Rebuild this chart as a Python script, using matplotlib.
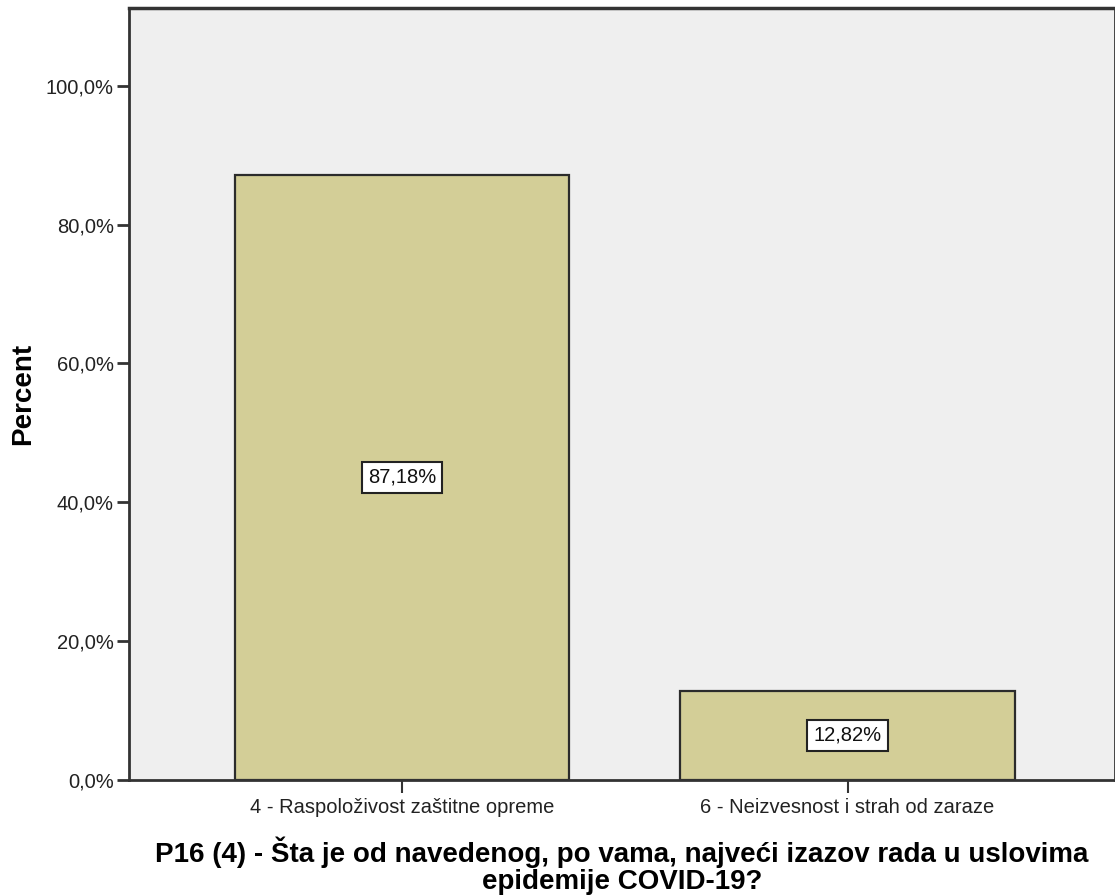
import matplotlib
matplotlib.use("Agg")
import matplotlib.pyplot as plt

# podaci
categories = ["4 - Raspoloživost zaštitne opreme", "6 - Neizvesnost i strah od zaraze"]
percent = [87.18, 12.82]
value_labels = ["87,18%", "12,82%"]
yticks = [0, 20, 40, 60, 80, 100]
ytick_labels = ["0,0%", "20,0%", "40,0%", "60,0%", "80,0%", "100,0%"]

plt.rcParams['font.family'] = ['Liberation Sans', 'DejaVu Sans']

fig = plt.figure(figsize=(11.15, 8.96), dpi=100)
ax = fig.add_axes([129 / 1115, 1 - 780 / 896, 1 - 129 / 1115, (780 - 8) / 896])
ax.set_facecolor('#EFEFEF')

x = list(range(len(categories)))
ax.bar(x, percent, width=0.75, color='#D3CE97', edgecolor='#2b2b2b', linewidth=1.6, zorder=2)

# oznake vrednosti u sredini stubića
for xi, v, lab in zip(x, percent, value_labels):
    ax.text(xi, v / 2, lab, ha='center', va='center', fontsize=14.5, color='#111111', zorder=3,
            bbox=dict(boxstyle='square,pad=0.3', facecolor='white', edgecolor='#222222', linewidth=1.5))

ax.set_xlim(-0.612, 1.6)
ax.set_ylim(0, 111.2)
ax.set_yticks(yticks)
ax.set_yticklabels(ytick_labels, fontsize=14.5, color='#222222')
ax.set_xticks(x)
ax.set_xticklabels(categories, fontsize=14.5, color='#222222')

for s in ax.spines.values():
    s.set_color('#333333')
    s.set_linewidth(2)
ax.spines['top'].set_linewidth(2.5)

ax.tick_params(axis='y', length=9, width=2, color='#333333', pad=2)
ax.tick_params(axis='x', length=9, width=1.5, color='#333333', pad=4)

ax.set_ylabel('Percent', fontsize=20, fontweight='bold', labelpad=7)
ax.set_xlabel('P16 (4) - Šta je od navedenog, po vama, najveći izazov rada u uslovima\nepidemije COVID-19?',
              fontsize=20, fontweight='bold', linespacing=1.05, labelpad=14)

fig.savefig('out.png', dpi=100)
